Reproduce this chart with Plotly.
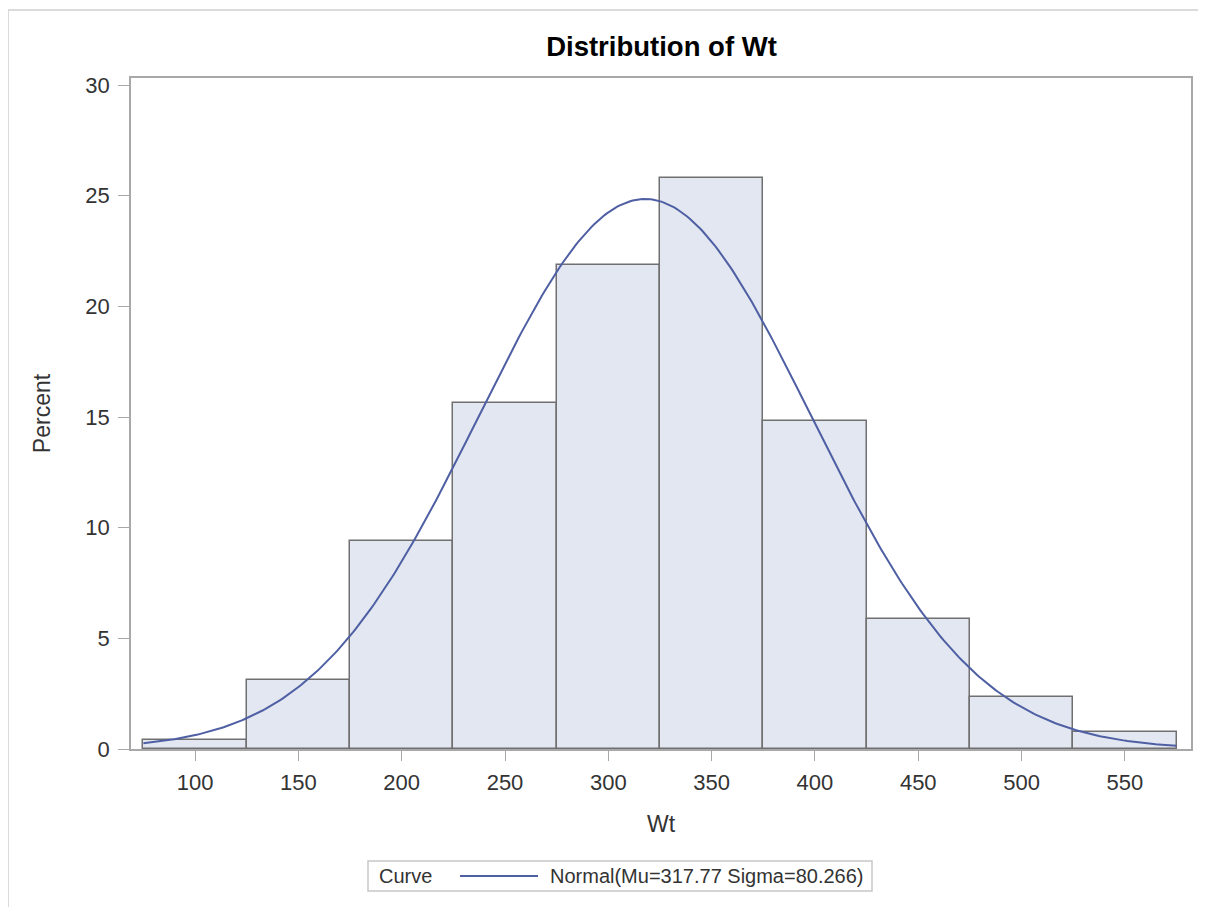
import numpy as np
import plotly.graph_objects as go

# Histogram data
bin_midpoints = [100, 150, 200, 250, 300, 350, 400, 450, 500, 550]
percent = [0.39, 3.13, 9.38, 15.63, 21.88, 25.78, 14.84, 5.86, 2.34, 0.78]
bin_width = 50

# Fitted normal curve parameters (from legend)
mu = 317.77
sigma = 80.266

x_ticks = [100, 150, 200, 250, 300, 350, 400, 450, 500, 550]
y_ticks = [0, 5, 10, 15, 20, 25, 30]

FONT = "Liberation Sans"

x_lo = bin_midpoints[0] - bin_width / 2
x_hi = bin_midpoints[-1] + bin_width / 2
xs = np.linspace(x_lo, x_hi, 400)
curve_pct = 100 * bin_width * np.exp(-0.5 * ((xs - mu) / sigma) ** 2) / (sigma * np.sqrt(2 * np.pi))

fig = go.Figure()
fig.add_trace(go.Bar(
    x=bin_midpoints, y=percent, width=bin_width,
    marker=dict(color="#E2E7F1", line=dict(color="#707070", width=1.5)),
    showlegend=False, name="Wt",
))
fig.add_trace(go.Scatter(
    x=xs, y=curve_pct, mode="lines",
    line=dict(color="#4F5FA3", width=2),
    name="Normal(Mu=317.77 Sigma=80.266)", showlegend=False,
))

# page body has an 8px margin, so the figure is drawn at (8, 8)
OFF = 8
W, H = 1206 - OFF, 907 - OFF
L = 131 - OFF
T = 78 - OFF
R = W - (1191 - OFF)
B = H - (749 - OFF)
pw = W - L - R
ph = H - T - B

def px(x):
    # reference screen x -> paper
    return (x - OFF - L) / pw

def py(y):
    # reference screen y -> paper
    return (H - B - (y - OFF)) / ph

fig.update_layout(
    width=W, height=H,
    margin=dict(l=L, r=R, t=T, b=B),
    paper_bgcolor="white", plot_bgcolor="white",
    font=dict(family=FONT, color="#333333", size=22),
    title=dict(text="<b>Distribution of Wt</b>", x=px(661.5), xref="paper",
               y=1 - (46 - OFF) / H, yref="container", yanchor="middle", xanchor="center",
               font=dict(size=27.5, color="black", family=FONT)),
    bargap=0,
    xaxis=dict(range=[69, 582], tickvals=x_ticks, ticks="outside", ticklen=10,
               tickcolor="#A8A8A8", showline=True, linecolor="#A8A8A8", linewidth=1.5,
               mirror=True, showgrid=False, zeroline=False, ticklabelstandoff=3,
               tickfont=dict(size=22, color="#333333"),
               title=dict(text="Wt", font=dict(size=23, color="#333333"), standoff=22)),
    yaxis=dict(range=[0, 30.32], tickvals=y_ticks, ticks="outside", ticklen=11,
               tickcolor="#A8A8A8", showline=True, linecolor="#A8A8A8", linewidth=1.5,
               mirror=True, showgrid=False, zeroline=False, ticklabelstandoff=4,
               tickfont=dict(size=22, color="#333333"),
               title=dict(text="Percent", font=dict(size=23, color="#333333"), standoff=28)),
    showlegend=False,
)

# Outer graph border
fig.add_shape(type="rect", xref="paper", yref="paper",
              x0=px(8), x1=px(1215), y0=py(915), y1=py(10),
              line=dict(color="#D0D0D0", width=1.5), fillcolor="rgba(0,0,0,0)", layer="below")

# Legend box (drawn manually to match the long line sample)
fig.add_shape(type="rect", xref="paper", yref="paper",
              x0=px(368), x1=px(872), y0=py(891), y1=py(861),
              line=dict(color="#C8C8C8", width=1.5), fillcolor="white")
fig.add_shape(type="line", xref="paper", yref="paper",
              x0=px(460), x1=px(538), y0=py(876), y1=py(876),
              line=dict(color="#4F5FA3", width=2))
fig.add_annotation(text="Curve", xref="paper", yref="paper", x=px(377), y=py(876),
                   xanchor="left", yanchor="middle", showarrow=False,
                   font=dict(size=20, color="#333333", family=FONT))
fig.add_annotation(text="Normal(Mu=317.77 Sigma=80.266)", xref="paper", yref="paper",
                   x=px(548), y=py(876), xanchor="left", yanchor="middle", showarrow=False,
                   font=dict(size=20, color="#333333", family=FONT))

fig.write_html("out.html")
